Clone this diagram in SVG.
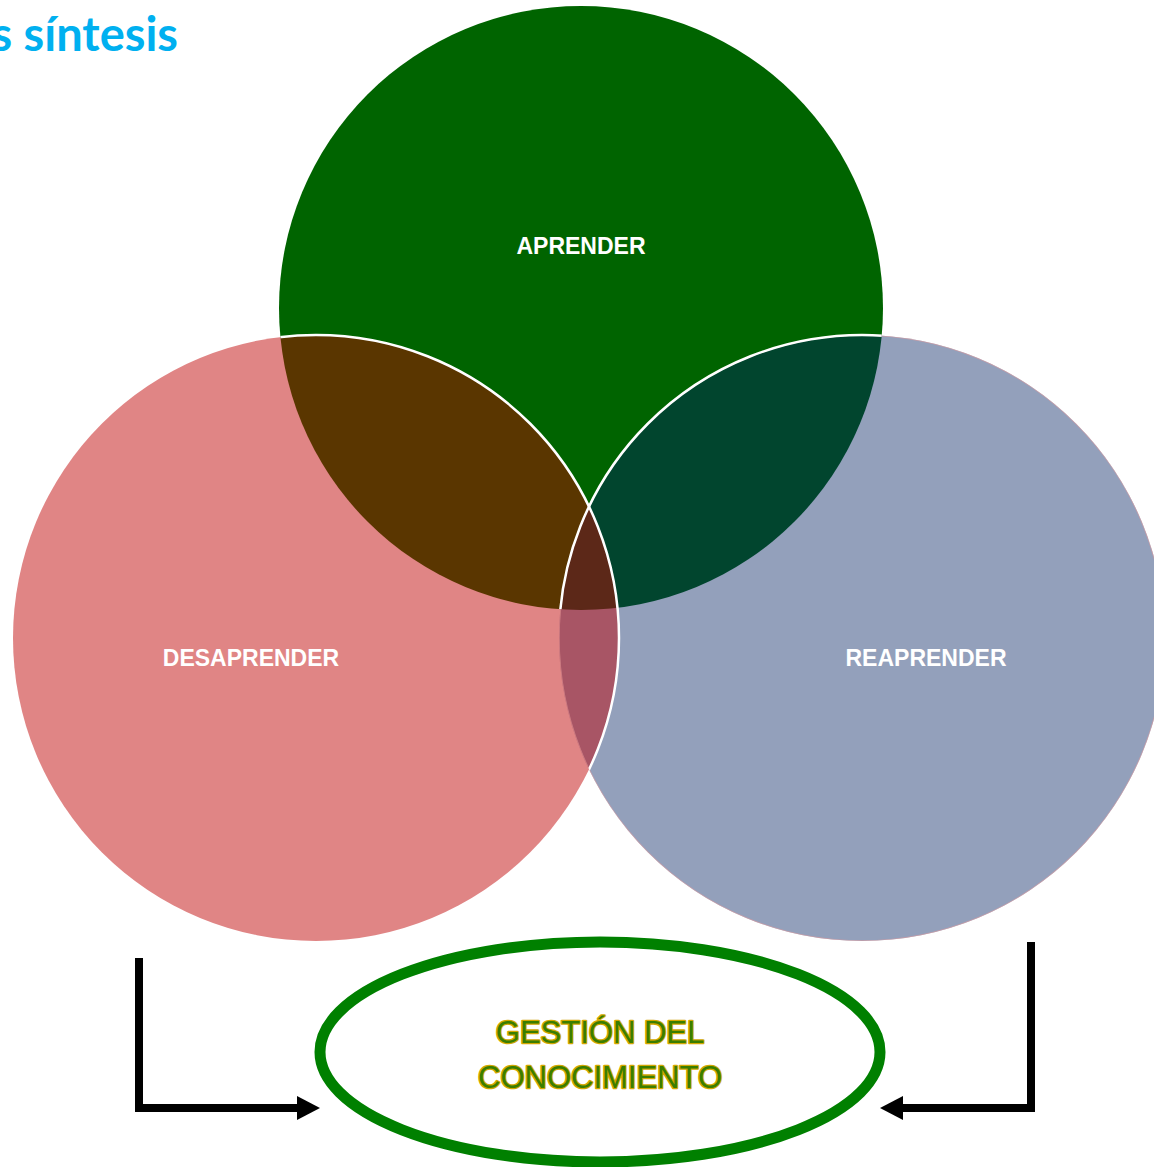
<svg xmlns="http://www.w3.org/2000/svg" width="1154" height="1167" viewBox="0 0 1154 1167">
<style>
.lbl{font-family:"Liberation Sans",Arial,sans-serif;font-weight:bold;font-size:23px;fill:#ffffff;text-anchor:middle}
.gc{font-family:"Liberation Sans",Arial,sans-serif;font-size:31px;fill:#3a7d00;stroke:#d2a800;stroke-width:2.6;paint-order:stroke;stroke-linejoin:round;text-anchor:middle}
.title{font-family:Lato,"Open Sans",sans-serif;font-weight:bold;font-size:47px;fill:#00b0f0;text-anchor:end}
.conn{fill:none;stroke:#000000;stroke-width:8;stroke-linejoin:miter}
</style>
<defs>
<clipPath id="cG"><circle cx="581" cy="308" r="302"/></clipPath>
<clipPath id="cB"><circle cx="862" cy="638" r="303"/></clipPath>
<clipPath id="cGB"><circle cx="581" cy="308" r="302"/><circle cx="862" cy="638" r="303"/></clipPath>
<marker id="ah" markerUnits="userSpaceOnUse" markerWidth="24" markerHeight="26" refX="0" refY="12" orient="auto" viewBox="0 0 24 26">
<path d="M0,0 L23,12 L0,24 z" fill="#000000"/>
</marker>
</defs>
<rect width="1154" height="1167" fill="#ffffff"/>
<text class="title" x="178" y="51">as síntesis</text>

<g id="node-aprender">
<circle cx="581" cy="308" r="302" fill="#006400"/>
</g>
<g id="node-reaprender">
<circle cx="862" cy="638" r="303" fill="#93a0bb"/>
</g>
<g id="node-desaprender">
<circle cx="316" cy="638" r="303" fill="#e08585"/>
</g>
<g id="overlaps">
<circle cx="316" cy="638" r="303" fill="#5a3600" clip-path="url(#cG)"/>
<circle cx="862" cy="638" r="303" fill="#01452e" clip-path="url(#cG)"/>
<circle cx="316" cy="638" r="303" fill="#a85565" clip-path="url(#cB)"/>
<g clip-path="url(#cG)"><circle cx="316" cy="638" r="303" fill="#5c2818" clip-path="url(#cB)"/></g>
<g clip-path="url(#cB)"><circle cx="862" cy="638" r="303" fill="none" stroke="#e79a9a" stroke-width="1.5" opacity="0.6"/></g>
<circle cx="862" cy="638" r="303" fill="none" stroke="#ffffff" stroke-width="2.5" clip-path="url(#cG)"/>
<circle cx="316" cy="638" r="303" fill="none" stroke="#ffffff" stroke-width="2.5" clip-path="url(#cGB)"/>
</g>
<text class="lbl" x="581" y="254">APRENDER</text>
<text class="lbl" x="251" y="666">DESAPRENDER</text>
<text class="lbl" x="926" y="666">REAPRENDER</text>

<g id="node-gestion">
<ellipse cx="600" cy="1052" rx="280" ry="110" fill="#ffffff" stroke="#008000" stroke-width="11"/>
<text class="gc" x="600" y="1043">GESTIÓN DEL</text>
<text class="gc" x="600" y="1088">CONOCIMIENTO</text>
</g>

<g id="connectors">
<path class="conn" d="M139,958 V1108 H297" marker-end="url(#ah)"/>
<path class="conn" d="M1031,942 V1108 H903" marker-end="url(#ah)"/>
</g>
</svg>
